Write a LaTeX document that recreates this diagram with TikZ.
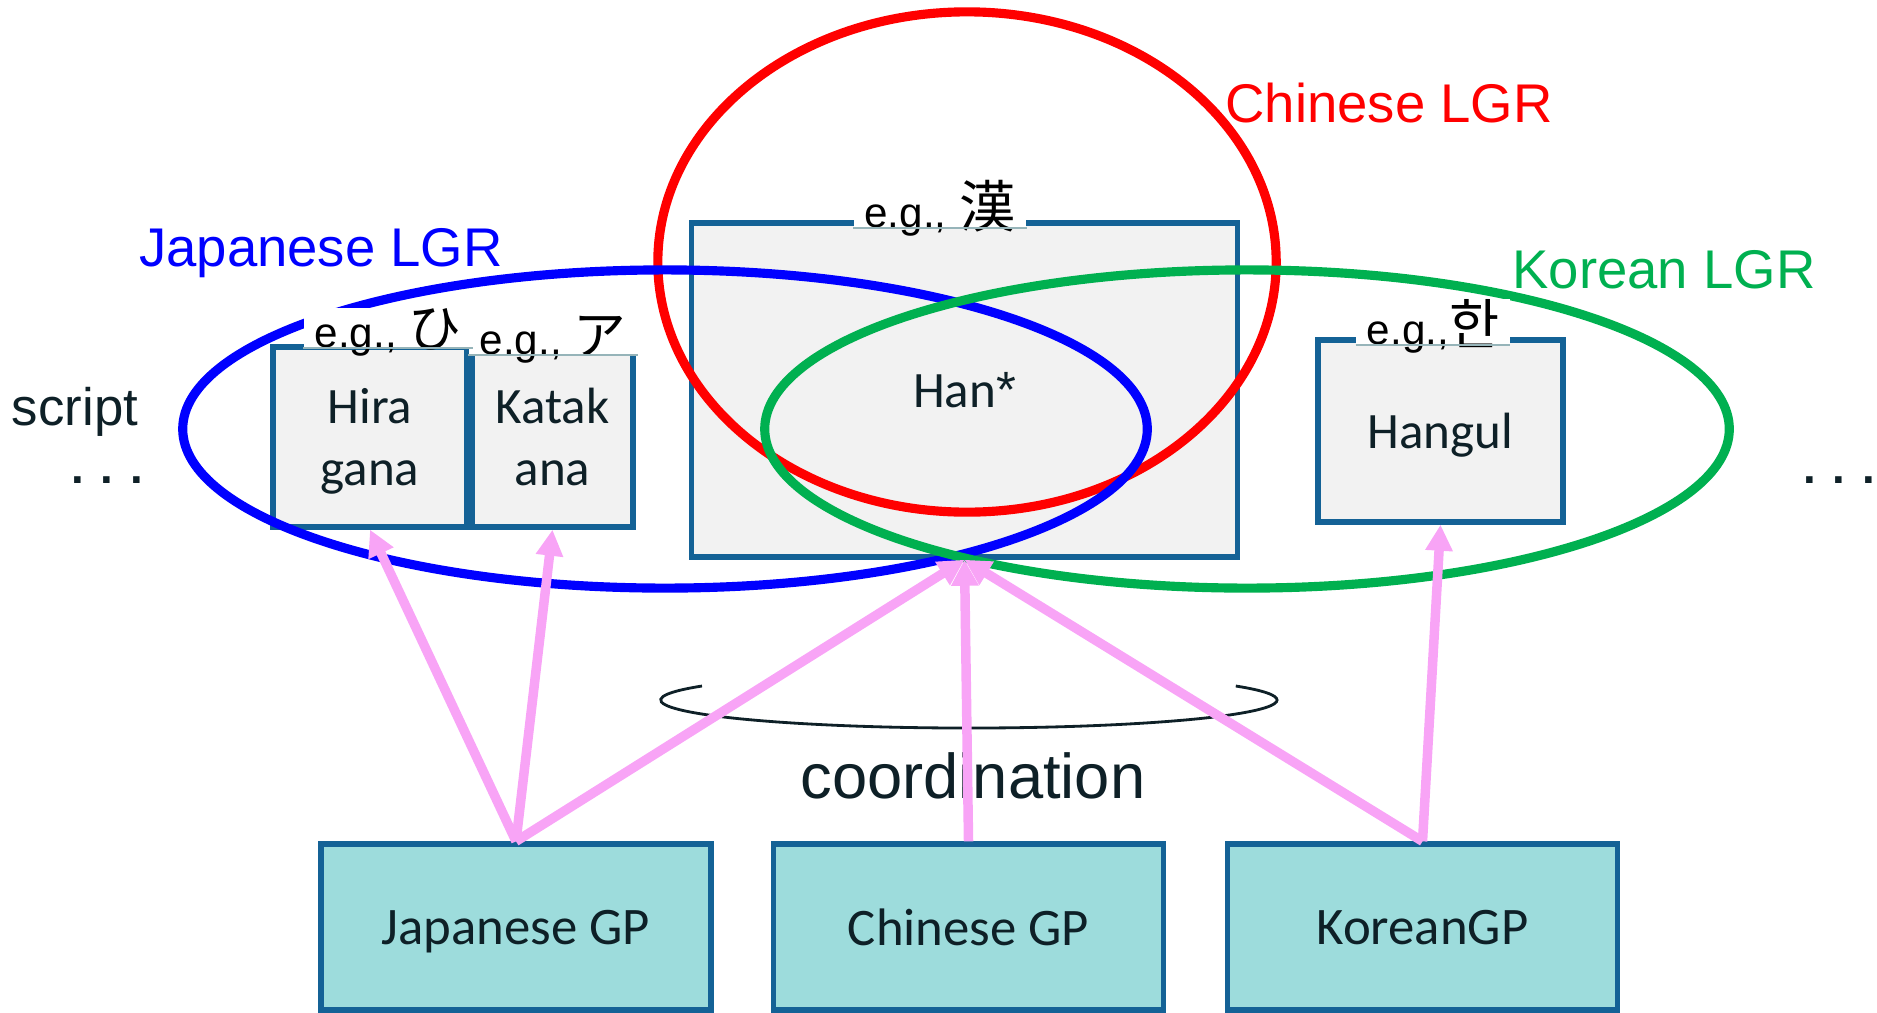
\documentclass[tikz,border=0pt]{standalone}
\usepackage{fontspec}
\setmainfont{Carlito}
\newfontfamily\arialfont{Liberation Sans}
\newfontfamily\jpfont{Noto Sans CJK JP}
\newfontfamily\krfont{Noto Sans CJK KR}
\usetikzlibrary{arrows.meta,shapes,positioning}
\definecolor{boxblue}{RGB}{20,98,150}
\definecolor{boxgray}{RGB}{242,242,242}
\definecolor{gpfill}{RGB}{157,220,220}
\definecolor{arrowpink}{RGB}{248,164,246}
\definecolor{lgrred}{RGB}{255,0,0}
\definecolor{lgrblue}{RGB}{0,0,255}
\definecolor{lgrgreen}{RGB}{0,176,80}
\definecolor{inkdark}{RGB}{14,32,39}
\definecolor{egline}{RGB}{150,180,185}
\newcommand{\eg}{{\arialfont\fontsize{12}{14}\selectfont e.g.,}}

\begin{document}
\begin{tikzpicture}[x=0.01cm, y=-0.01cm,
  scriptbox/.style={draw=boxblue, fill=boxgray, line width=1.5pt, text=inkdark, align=center, text depth=0pt, font=\fontsize{14.5}{17.6}\selectfont},
  gpbox/.style={draw=boxblue, fill=gpfill, line width=1.5pt, text=inkdark, text depth=0pt, minimum width=3.9cm, minimum height=1.66cm, font=\fontsize{15}{18}\selectfont},
  eglabel/.style={fill=white, inner xsep=3pt, inner ysep=0pt, text depth=0pt, anchor=south, font=\jpfont\fontsize{15}{16}\selectfont},
  lgr/.style={anchor=base, font=\arialfont\fontsize{15.5}{18}\selectfont},
  plain/.style={anchor=base, text=inkdark, font=\arialfont\fontsize{15}{18}\selectfont},
  maps/.style={draw=arrowpink, line width=2.7pt, -{Triangle[length=0.26cm, width=0.26cm]}}
]
\useasboundingbox (0,0) rectangle (1877,1012);

\node (han) [scriptbox, minimum width=5.45cm, minimum height=3.34cm] at (964.5,390) {Han{\arialfont *}};
\node (hira) [scriptbox, minimum width=1.94cm, minimum height=1.8cm] at (370,437) {Hira\\gana};
\node (kata) [scriptbox, minimum width=1.61cm, minimum height=1.8cm] at (552.5,437) {Katak\\ana};
\node (hangul) [scriptbox, minimum width=2.45cm, minimum height=1.82cm] at (1440.5,431) {Hangul};

\draw[lgrred, line width=2.6pt] (967,262) ellipse [x radius=3.09cm, y radius=2.5cm];
\draw[lgrblue, line width=2.6pt] (665,429) ellipse [x radius=4.82cm, y radius=1.59cm];
\draw[lgrgreen, line width=2.6pt] (1247,429) ellipse [x radius=4.82cm, y radius=1.59cm];

\node (cnlgr) [lgr, text=lgrred] at (1389,122) {Chinese LGR};
\node (jplgr) [lgr, text=lgrblue] at (321,266) {Japanese LGR};
\node (krlgr) [lgr, text=lgrgreen] at (1664,288) {Korean LGR};

\node (script) [plain] at (75,425) {script};
\node (dotsl) [plain, font=\arialfont\bfseries\fontsize{13}{18}\selectfont] at (107,483) {. . .};
\node (dotsr) [plain, font=\arialfont\bfseries\fontsize{13}{18}\selectfont] at (1839,483) {. . .};

\node (jpgp) [gpbox] at (516,927) {Japanese GP};
\node (cngp) [gpbox] at (968.5,927) {Chinese GP};
\node (krgp) [gpbox] at (1422.5,927) {KoreanGP};

\coordinate (arcstart) at (702,686);
\draw[inkdark, line width=0.8pt] (arcstart) arc [start angle=150, end angle=390, x radius=3.08cm, y radius=0.28cm];
\node (coord) [plain, font=\arialfont\fontsize{18}{21}\selectfont] at (973,798) {coordination};

\draw[maps] (jpgp.north) -- (hira.south);
\draw[maps] (jpgp.north) -- (kata.south);
\draw[maps] (jpgp.north) -- (han.south);
\draw[maps] (cngp.north) -- (han.south);
\draw[maps] (krgp.north) -- (han.south);
\draw[maps] (krgp.north) -- (hangul.south);

\node (eghira) [eglabel] at (388,348) {\eg{} ひ};
\node (egkata) [eglabel] at (553,355) {\eg{} ア};
\node (eghan) [eglabel, font=\jpfont\fontsize{16}{16}\selectfont] at (940,228) {\eg{} 漢};
\node (eghangul) [eglabel, font=\krfont\fontsize{15.5}{16}\selectfont] at (1433,345) {\eg{}한};
\draw[egline, line width=0.5pt] (eghira.south west) -- (eghira.south east);
\draw[egline, line width=0.5pt] (egkata.south west) -- (egkata.south east);
\draw[egline, line width=0.5pt] (eghan.south west) -- (eghan.south east);
\draw[egline, line width=0.5pt] (eghangul.south west) -- (eghangul.south east);
\end{tikzpicture}
\end{document}
